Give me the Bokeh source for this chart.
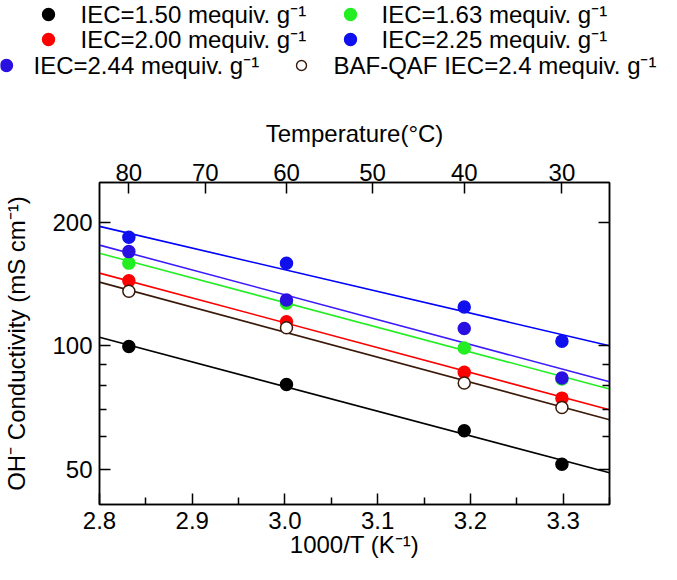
from bokeh.plotting import figure
from bokeh.models import Range1d, LinearAxis, LogAxis, FixedTicker, PrintfTickFormatter, CustomJSTickFormatter
from bokeh.layouts import column
from bokeh.embed import file_html
from bokeh.resources import INLINE
from bokeh.core.properties import value

# ---------------- data ----------------
temps_c = [80, 60, 40, 30]                      # measurement temperatures (deg C)
inv_t = [1000.0 / (t + 273.15) for t in temps_c]  # 1000/T (K^-1)

iec150 = [99.6, 80.4, 62.0, 51.4]
iec163 = [159.0, 127.0, 98.7, 83.0]
iec200 = [144.0, 114.4, 86.1, 74.5]
iec225 = [169.6, 129.2, 110.2, 83.4]
iec244 = [183.8, 158.8, 124.2, 102.6]
baf_qaf = [135.7, 110.6, 81.1, 70.7]

fit_x = [2.8, 3.35]
fit150 = [104.8, 49.0]
fit163 = [168.0, 78.4]
fit200 = [150.3, 69.8]
fit225 = [175.9, 81.7]
fit244 = [195.4, 100.0]
fit_baf = [142.9, 66.0]

x_ticks = [2.8, 2.9, 3.0, 3.1, 3.2, 3.3]
x_minor = [2.85, 2.95, 3.05, 3.15, 3.25, 3.35]
y_ticks = [50, 100, 200]
y_minor = [60, 70, 80, 90]
top_ticks_c = [80, 70, 60, 50, 40, 30]

labels = ["IEC=1.50 mequiv. g\u207b\u00b9", "IEC=1.63 mequiv. g\u207b\u00b9",
          "IEC=2.00 mequiv. g\u207b\u00b9", "IEC=2.25 mequiv. g\u207b\u00b9",
          "IEC=2.44 mequiv. g\u207b\u00b9", "BAF-QAF IEC=2.4 mequiv. g\u207b\u00b9"]

FONT = "Liberation Sans"
BLACK = "#000000"
GREEN = "#22ee22"
RED = "#ff0000"
BLUE1 = "#1010ee"
BLUE2 = "#0000ff"
BLUE2_DOT = "#2a10e0"
BROWN = "#3a1a0a"

# ---------------- main plot ----------------
p = figure(width=661, height=464, x_range=Range1d(2.8, 3.35), y_range=Range1d(41, 250),
           y_axis_type="log", output_backend="svg", toolbar_location=None,
           min_border_left=95, min_border_right=52, min_border_top=82, min_border_bottom=60)
p.frame_align = False
p.xgrid.visible = False
p.ygrid.visible = False
p.outline_line_color = "black"
p.outline_line_width = 1.5
p.background_fill_color = "white"
p.border_fill_color = "white"

def style_axis(ax, label_size="24px"):
    ax.axis_line_color = "black"
    ax.axis_line_width = 1.5
    ax.major_tick_line_color = "black"
    ax.major_tick_line_width = 1.5
    ax.minor_tick_line_color = "black"
    ax.minor_tick_line_width = 1.5
    ax.major_tick_in = 11
    ax.major_tick_out = 0
    ax.minor_tick_in = 7
    ax.minor_tick_out = 0
    ax.major_label_text_font = FONT
    ax.major_label_text_font_size = label_size
    ax.major_label_text_color = "black"
    ax.axis_label_text_font = FONT
    ax.axis_label_text_font_size = "24px"
    ax.axis_label_text_font_style = "normal"
    ax.axis_label_text_color = "black"

# bottom axis
xb = p.xaxis[0]
xb.ticker = FixedTicker(ticks=x_ticks, minor_ticks=x_minor)
xb.formatter = PrintfTickFormatter(format="%.1f")
xb.axis_label = "1000/T (K\u207b\u00b9)"
style_axis(xb)
xb.major_label_standoff = 7
xb.axis_label_standoff = -1

# left axis
yl = p.yaxis[0]
yl.ticker = FixedTicker(ticks=y_ticks, minor_ticks=y_minor)
yl.formatter = PrintfTickFormatter(format="%d")
yl.axis_label = "OH\u207b Conductivity (mS cm\u207b\u00b9)"
style_axis(yl)
yl.major_label_standoff = 7
yl.axis_label_standoff = 19

# top axis (temperature)
xt = LinearAxis(ticker=FixedTicker(ticks=[1000.0 / (t + 273.15) for t in top_ticks_c], minor_ticks=[]),
                formatter=CustomJSTickFormatter(code="return Math.round(1000/tick - 273.15).toString();"),
                axis_label="Temperature(\u00b0C)")
style_axis(xt)
xt.major_label_standoff = 2
xt.axis_label_standoff = 14
p.add_layout(xt, "above")

# right axis (mirror, ticks only)
yr = LogAxis(ticker=FixedTicker(ticks=y_ticks, minor_ticks=y_minor),
             formatter=CustomJSTickFormatter(code="return '';"))
style_axis(yr)
yr.major_label_standoff = 0
p.add_layout(yr, "right")

series = [
    (iec150, fit150, BLACK, BLACK, BLACK),
    (iec163, fit163, GREEN, GREEN, GREEN),
    (iec200, fit200, RED, RED, RED),
    (iec225, fit225, "#3a1aff", BLUE2_DOT, BLUE2_DOT),
    (iec244, fit244, BLUE2, BLUE1, BLUE1),
    (baf_qaf, fit_baf, BROWN, "white", BROWN),
]
for ys, fy, lc, fc, ec in series:
    p.line(fit_x, fy, line_color=lc, line_width=1.6)
for ys, fy, lc, fc, ec in series:
    p.scatter(inv_t, ys, marker="circle", size=12, fill_color=fc, line_color=ec, line_width=1.5)

# ---------------- legend figure ----------------
leg = figure(width=661, height=100, x_range=Range1d(0, 661), y_range=Range1d(100, 0),
             x_axis_type=None, y_axis_type=None, output_backend="svg", toolbar_location=None,
             min_border=0)
leg.frame_align = False
leg.outline_line_color = None
leg.xgrid.visible = False
leg.ygrid.visible = False

leg_dot_x = [48, 350, 48, 350, 6, 301]
leg_dot_y = [14, 14, 39, 39, 65, 65]
leg_txt_x = [80, 381, 80, 381, 33, 333]
leg_fill = [BLACK, GREEN, RED, BLUE1, BLUE2_DOT, "white"]
leg_line = [BLACK, GREEN, RED, BLUE1, BLUE2_DOT, BROWN]
leg_size = [12, 12, 12, 12, 12, 10]
leg.scatter(leg_dot_x, leg_dot_y, marker="circle", size=leg_size, fill_color=leg_fill,
            line_color=leg_line, line_width=1.4)
leg.text(leg_txt_x, leg_dot_y, text=labels, text_font=value(FONT), text_font_size="24px",
         text_align="left", text_baseline="middle", text_color="black")

layout = column(leg, p, spacing=0)
open("out.html", "w").write(file_html(layout, INLINE))
